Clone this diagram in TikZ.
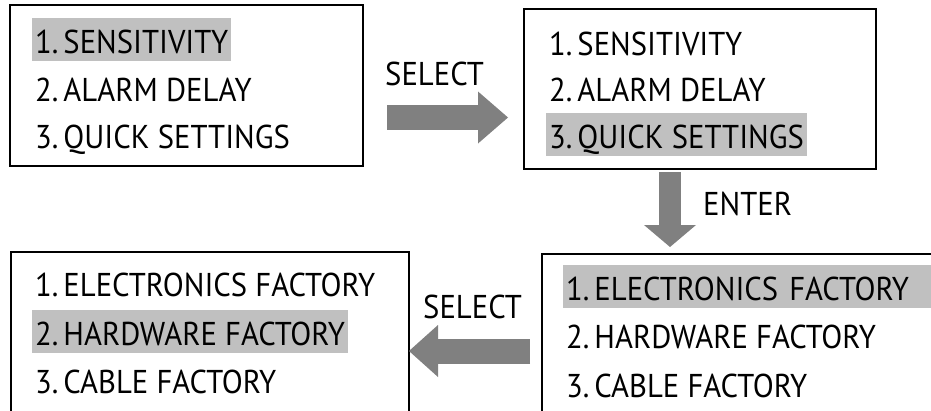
\documentclass[tikz,border=0pt]{standalone}
\usepackage{fontspec}
\setmainfont[FakeStretch=0.93]{PT Sans}
\usetikzlibrary{arrows.meta}

\definecolor{hlgray}{RGB}{192,192,192}
\definecolor{flowgray}{RGB}{128,128,128}

% menu entry number followed by a narrow gap
\newcommand{\entrynum}[1]{#1.\kern5pt}

\tikzset{
  menubox/.style={draw=black, line width=2pt, anchor=north west, inner sep=0pt},
  item/.style={anchor=base west, font=\fontsize{33}{33}\selectfont,
               inner xsep=3pt, inner ysep=0pt, text height=35pt, text depth=8pt},
  picked/.style={item, fill=hlgray},
  keylabel/.style={anchor=base west, font=\fontsize{33}{33}\selectfont, inner sep=0pt},
  flow/.style={draw=flowgray, line width=25pt},
}

\begin{document}
\begin{tikzpicture}[x=1pt, y=-1pt]
  \clip (0,0) rectangle (931,410);
  \fill[white] (0,0) rectangle (931,410);

  % main menu, first item selected
  \node[menubox, minimum width=353pt, minimum height=161pt] (menuA) at (9,4) {};
  \node[picked] (a1) at (32,53)  {\entrynum{1}SENSITIVITY};
  \node[item]   (a2) at (32,101) {\entrynum{2}ALARM DELAY};
  \node[item]   (a3) at (32,148) {\entrynum{3}QUICK SETTINGS};

  % main menu, third item selected
  \node[menubox, minimum width=352pt, minimum height=160pt] (menuB) at (523,8) {};
  \node[item]   (b1) at (546,55)  {\entrynum{1}SENSITIVITY};
  \node[item]   (b2) at (546,101) {\entrynum{2}ALARM DELAY};
  \node[picked] (b3) at (546,148) {\entrynum{3}QUICK SETTINGS};

  % quick settings menu, first item selected
  \node[menubox, minimum width=420pt, minimum height=200pt] (menuD) at (541,253) {};
  \node[picked, text width=362pt, align=left] (d1) at (563,300) {\entrynum{1}ELECTRONICS FACTORY};
  \node[item]   (d2) at (563,348) {\entrynum{2}HARDWARE FACTORY};
  \node[item]   (d3) at (563,397) {\entrynum{3}CABLE FACTORY};

  % quick settings menu, second item selected
  \node[menubox, minimum width=398pt, minimum height=200pt] (menuC) at (10,251) {};
  \node[item]   (c1) at (32,296) {\entrynum{1}ELECTRONICS FACTORY};
  \node[picked] (c2) at (32,345) {\entrynum{2}HARDWARE FACTORY};
  \node[item]   (c3) at (32,393) {\entrynum{3}CABLE FACTORY};

  % key presses between the screens
  \coordinate (selA-from) at (387,117.5);
  \coordinate (selA-to)   at (508,117.5);
  \draw[flow, -{Triangle[width=52pt, length=30pt, line width=0pt]}] (selA-from) -- (selA-to);
  \node[keylabel] (selA) at (385,85) {SELECT};

  \coordinate (ent-from) at (670,172);
  \coordinate (ent-to)   at (670,247);
  \draw[flow, line width=22pt, -{Triangle[width=52pt, length=22pt, line width=0pt]}] (ent-from) -- (ent-to);
  \node[keylabel] (ent) at (703,215) {ENTER};

  \coordinate (selB-from) at (530,351);
  \coordinate (selB-to)   at (409,351);
  \draw[flow, -{Triangle[width=52pt, length=29pt, line width=0pt]}] (selB-from) -- (selB-to);
  \node[keylabel] (selB) at (423,318) {SELECT};
\end{tikzpicture}
\end{document}
